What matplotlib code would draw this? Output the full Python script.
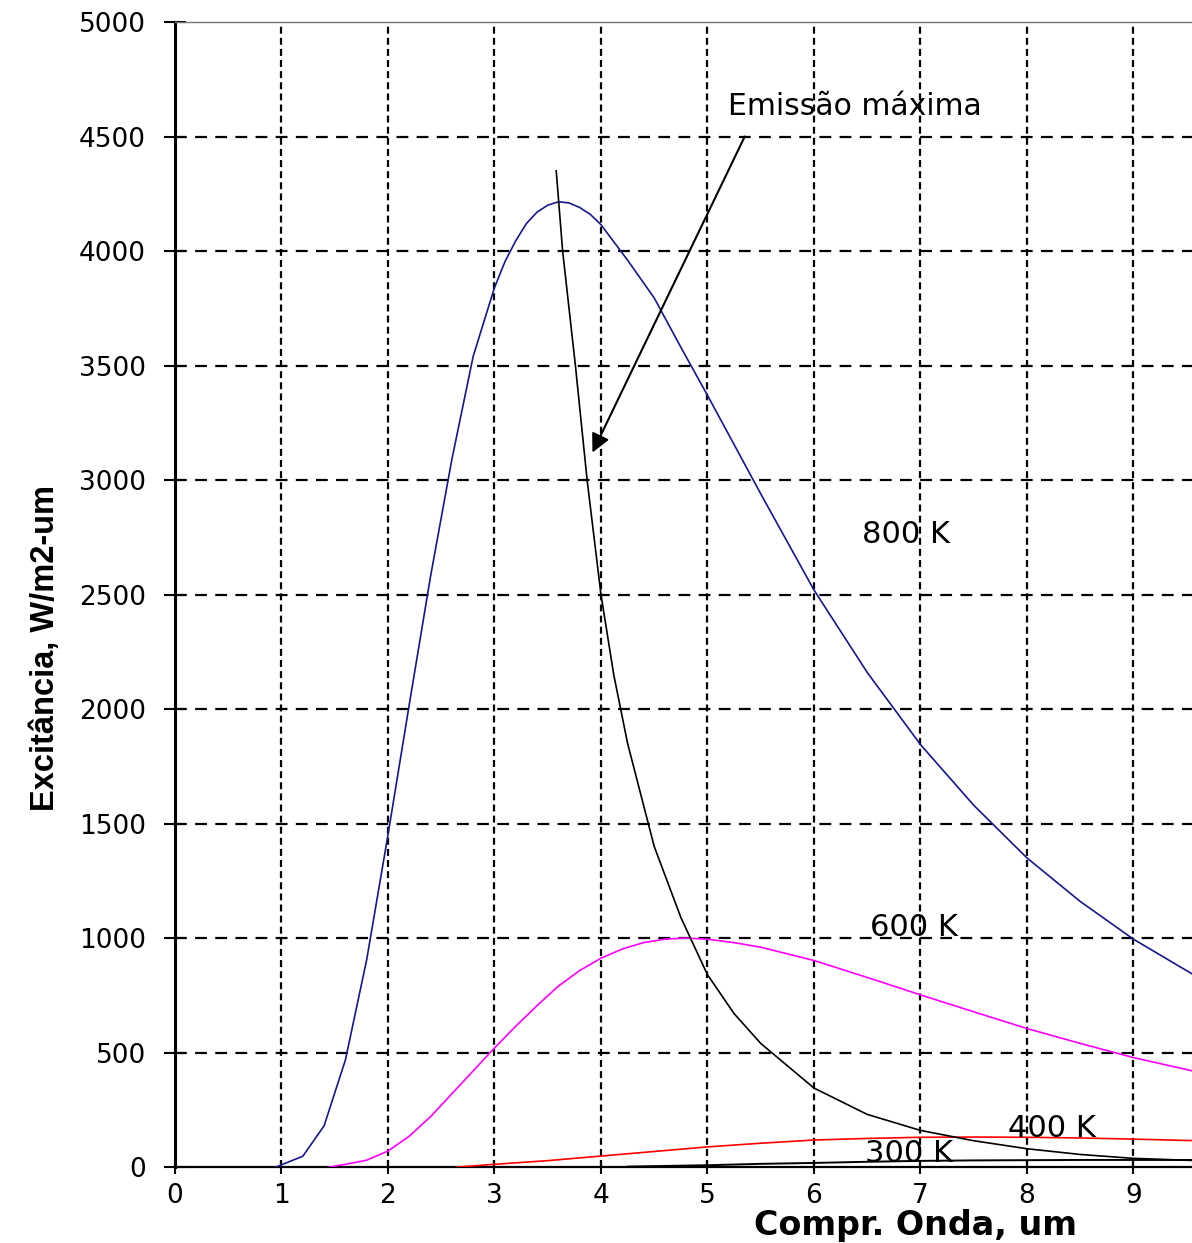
import matplotlib

matplotlib.use("Agg")
import matplotlib.pyplot as plt
import numpy as np

# wavelength (um) / exitance (W/m2-um)
wl_800 = [0.95, 1.0, 1.2, 1.4, 1.6, 1.8, 2.0, 2.2, 2.4, 2.6, 2.8, 3.0, 3.1, 3.2,
          3.3, 3.4, 3.5, 3.6, 3.7, 3.8, 3.9, 4.0, 4.25, 4.5, 4.75, 5.0, 5.5,
          6.0, 6.5, 7.0, 7.5, 8.0, 8.5, 9.0, 9.6]
exc_800 = [0, 10, 47, 180, 467, 905, 1450, 2020, 2580, 3090, 3540, 3840, 3955,
           4045, 4120, 4170, 4200, 4215, 4210, 4190, 4160, 4115, 3960, 3795,
           3580, 3370, 2940, 2520, 2160, 1845, 1580, 1350, 1160, 995, 830]

wl_600 = [1.45, 1.6, 1.8, 2.0, 2.2, 2.4, 2.6, 2.8, 3.0, 3.2, 3.4, 3.6, 3.8, 4.0,
          4.2, 4.4, 4.6, 4.8, 5.0, 5.25, 5.5, 6.0, 6.5, 7.0, 7.5, 8.0, 8.5,
          9.0, 9.6]
exc_600 = [0, 12, 30, 70, 135, 220, 320, 420, 520, 615, 705, 790, 858, 912,
           952, 980, 995, 1000, 995, 980, 960, 902, 828, 752, 678, 605, 540,
           478, 415]

wl_400 = [2.65, 3.0, 3.5, 4.0, 4.5, 5.0, 5.5, 6.0, 6.5, 7.0, 7.5, 8.0, 8.5, 9.0, 9.6]
exc_400 = [0, 12, 28, 48, 68, 88, 104, 118, 125, 130, 131, 130, 127, 122, 115]

wl_300 = [4.25, 5.0, 5.5, 6.0, 6.5, 7.0, 7.5, 8.0, 8.5, 9.0, 9.6]
exc_300 = [2, 8, 14, 18, 23, 27, 29, 30, 31, 31, 31]

# locus of maximum emission
wl_max = [3.58, 3.64, 3.76, 3.87, 4.0, 4.12, 4.25, 4.5, 4.75, 5.0, 5.25, 5.5,
          6.0, 6.5, 7.0, 7.5, 8.0, 8.5, 9.0, 9.6]
exc_max = [4350, 4000, 3500, 3000, 2500, 2150, 1850, 1400, 1090, 840, 670, 540,
           345, 230, 160, 115, 80, 55, 38, 28]

x_ticks = list(range(0, 10))
y_ticks = list(range(0, 5001, 500))

plt.rcParams["lines.scale_dashes"] = False

fig = plt.figure(figsize=(11.92, 12.43), dpi=100)
ax = fig.add_axes([0.1468, 0.0611, 0.8532, 0.9212])

for xv in x_ticks[1:]:
    ax.axvline(xv, color="black", lw=1.6, ls=(0, (5, 3)), zorder=1)
for yv in y_ticks[1:-1]:
    ax.axhline(yv, color="black", lw=1.6, ls=(0, (8.5, 6)), zorder=1)

ax.plot(wl_800, exc_800, color="#16168f", lw=1.2, zorder=3)
ax.plot(wl_600, exc_600, color="#ff00ff", lw=1.2, zorder=3)
ax.plot(wl_400, exc_400, color="#ff0000", lw=1.2, zorder=3)
ax.plot(wl_300, exc_300, color="black", lw=1.4, zorder=3)
ax.plot(wl_max, exc_max, color="black", lw=1.2, zorder=3)

ax.set_xlim(0, 9.55)
ax.set_ylim(0, 5000)
ax.set_xticks(x_ticks)
ax.set_yticks(y_ticks)

tick_font = {"family": "DejaVu Sans", "size": 19}
ax.set_xticklabels([str(v) for v in x_ticks], **tick_font)
ax.set_yticklabels([str(v) for v in y_ticks], **tick_font)
ax.tick_params(axis="y", direction="inout", length=16, width=1.5, pad=13)
ax.tick_params(axis="x", direction="inout", length=9.5, width=1.5, pad=7)

ax.spines["left"].set_linewidth(2.2)
ax.spines["bottom"].set_linewidth(1.6)
ax.spines["top"].set_linewidth(1.0)
ax.spines["top"].set_color("0.45")
ax.spines["right"].set_visible(False)

ax.set_xlabel("Compr. Onda, um", family="DejaVu Sans", fontsize=24,
              fontweight="bold")
ax.xaxis.label.set_verticalalignment("baseline")
ax.xaxis.set_label_coords(0.728, -0.0594)
ax.set_ylabel("Excitância, W/m2-um", family="Liberation Sans", fontsize=23.5,
              fontweight="bold")
ax.yaxis.set_label_coords(-0.112, 0.453)

label_font = {"family": "DejaVu Sans", "size": 22, "va": "center", "ha": "left"}
ax.text(6.45, 2760, "800 K", **label_font)
ax.text(6.53, 1048, "600 K", **label_font)
ax.text(7.82, 170, "400 K", **label_font)
ax.text(6.48, 61, "300 K", **label_font)

ax.text(5.19, 4633, "Emissão máxima", family="DejaVu Sans", fontsize=21.5,
        va="center", ha="left")
ax.annotate("", xy=(3.92, 3120), xytext=(5.35, 4500),
            arrowprops={"arrowstyle": "-|>", "lw": 1.5, "color": "black",
                        "mutation_scale": 28, "shrinkA": 0, "shrinkB": 0})

fig.savefig("out.png", dpi=100)
